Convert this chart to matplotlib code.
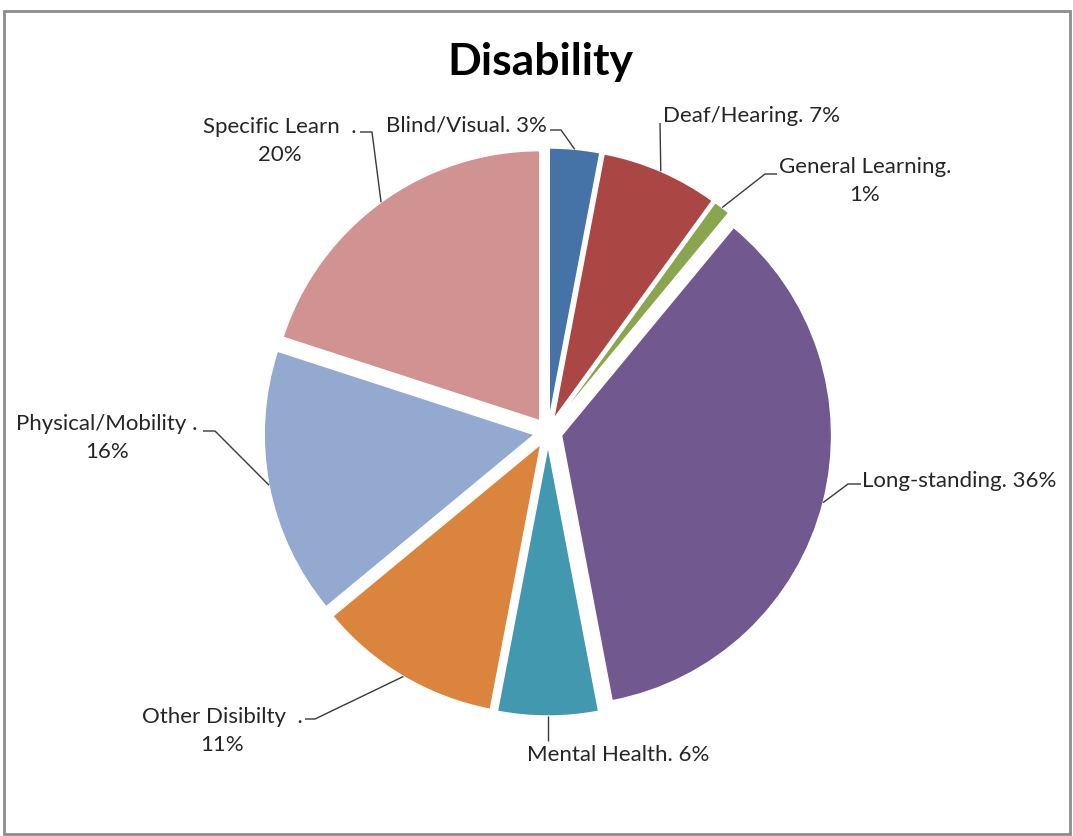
import numpy as np
import matplotlib
matplotlib.use("Agg")
import matplotlib.pyplot as plt
from matplotlib.patches import Rectangle

# --- data -------------------------------------------------------------
categories = ["Blind/Visual", "Deaf/Hearing", "General Learning", "Long-standing",
              "Mental Health", "Other Disibilty  ", "Physical/Mobility ", "Specific Learn  "]
percentages = [3, 7, 1, 36, 6, 11, 16, 20]
colors = ["#4572A7", "#AA4643", "#89A54E", "#71588F",
          "#4198AF", "#DB843D", "#93A9CF", "#D19392"]

# --- canvas in pixel units (y measured from the top) -------------------
W, H = 1073, 837
fig = plt.figure(figsize=(W / 100, H / 100), dpi=100)
ax = fig.add_axes([0, 0, 1, 1])

def Y(y):
    return H - y

cx, cy, R = 548, 433, 270
explode_px = 14

wedges, _ = ax.pie(percentages, colors=colors, startangle=90, counterclock=False,
                   radius=R, center=(cx, Y(cy)), explode=[explode_px] * len(percentages),
                   wedgeprops=dict(linewidth=1.0, edgecolor="white"))
ax.set_xlim(0, W)
ax.set_ylim(0, H)
ax.set_aspect("equal")
ax.axis("off")

# label text, text anchor, alignment and leader route (elbow points, pixels)
label_text = [f"{c}. {p}%" if i in (0, 1, 3, 4) else f"{c}.\n{p}%"
              for i, (c, p) in enumerate(zip(categories, percentages))]
label_pos = [(547, 125), (663, 116), (865, 181), (862, 481),
             (618, 755), (222, 731), (107, 438), (280, 141)]
label_ha = ["right", "left", "center", "left", "center", "center", "center", "center"]
leader_route = [[(561, 131), (550, 131)],
                [(660, 124)],
                [(765, 175), (777, 175)],
                [(848, 485), (861, 485)],
                [(548, 742)],
                [(315, 720), (305, 720)],
                [(215, 432), (203, 432)],
                [(372, 133), (360, 133)]]

txt_color = "#262626"
font = ["Lato", "DejaVu Sans"]
for w, text, pos, ha, route in zip(wedges, label_text, label_pos, label_ha, leader_route):
    mid = np.deg2rad((w.theta1 + w.theta2) / 2)
    ox, oy = w.center
    ax_pt = (ox + w.r * np.cos(mid), oy + w.r * np.sin(mid))
    xs = [ax_pt[0]] + [p[0] for p in route]
    ys = [ax_pt[1]] + [Y(p[1]) for p in route]
    ax.plot(xs, ys, color="#3a3a3a", lw=1.0, solid_capstyle="butt")
    ax.text(pos[0], Y(pos[1]), text, ha=ha, va="center", multialignment="center",
            fontsize=16, color=txt_color, family=font, linespacing=1.45)

ax.text(540, Y(62), "Disability", ha="center", va="center", fontsize=32,
        fontweight="bold", color="black", family=font)

# chart border
ax.add_patch(Rectangle((4, Y(835)), 1066, 823, fill=False, edgecolor="#8c8c8c",
                       lw=2, clip_on=False))

fig.savefig("out.png", dpi=100, facecolor="white")
